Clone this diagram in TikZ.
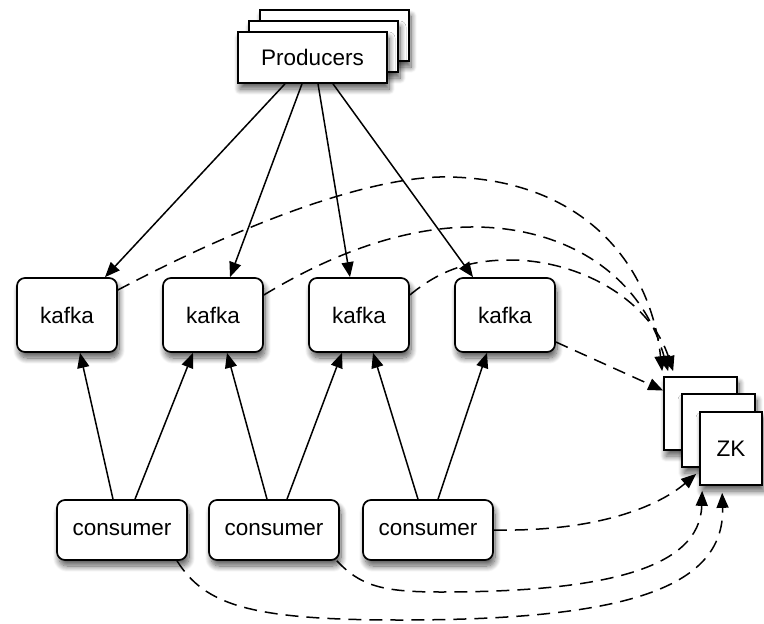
\documentclass[tikz,border=0pt]{standalone}
\usepackage{fontspec}
\setmainfont{Liberation Sans}
\usetikzlibrary{arrows.meta,shadows.blur}
\begin{document}
\begin{tikzpicture}[x=1pt,y=-1pt,
  shd/.style={blur shadow={shadow xshift=2pt, shadow yshift=-6pt, shadow blur steps=12, shadow opacity=65, shadow blur radius=6pt}},
  txt/.style={font=\fontsize{22.5}{27}\selectfont, inner sep=0pt},
  kbox/.style={draw=black, line width=1.7pt, fill=white, rounded corners=8pt, minimum width=100pt, minimum height=74pt, txt, shd},
  cbox/.style={draw=black, line width=1.7pt, fill=white, rounded corners=8pt, minimum width=130pt, minimum height=60pt, txt, shd},
  pbox/.style={draw=black, line width=1.7pt, fill=white, minimum width=149pt, minimum height=51pt, txt, shd},
  zbox/.style={draw=black, line width=1.7pt, fill=white, minimum width=73pt, minimum height=73pt, txt, shd},
  arr/.style={line width=1.5pt, -{Triangle[length=15pt,width=12pt]}},
  darr/.style={arr, dash pattern=on 13pt off 8pt}
]
\useasboundingbox (0,0) rectangle (764,624);

% Producers stack
\node[pbox] (p1) at (334.5,35.5) {};
\node[pbox] (p2) at (323.5,46.5) {};
\node[pbox] (prod) at (312.5,57.5) {Producers};

% kafka brokers
\node[kbox] (k1) at (67,315) {kafka};
\node[kbox] (k2) at (213,315) {kafka};
\node[kbox] (k3) at (359,315) {kafka};
\node[kbox] (k4) at (505,315) {kafka};

% consumers
\node[cbox] (c1) at (122,530) {consumer};
\node[cbox] (c2) at (274,530) {consumer};
\node[cbox] (c3) at (428,530) {consumer};

% ZK stack
\node[zbox] (zk1) at (700.5,413.5) {};
\node[zbox] (zk2) at (718.5,430.5) {};
\node[zbox, minimum width=62pt] (zk3) at (731,448.5) {ZK};

% producers -> kafka
\draw[arr] ([xshift=-27.5pt]prod.south) -- ([xshift=38pt]k1.north);
\draw[arr] ([xshift=-10.5pt]prod.south) -- ([xshift=17pt]k2.north);
\draw[arr] ([xshift=5.5pt]prod.south) -- ([xshift=-9pt]k3.north);
\draw[arr] ([xshift=20.5pt]prod.south) -- ([xshift=-32pt]k4.north);

% consumers -> kafka
\draw[arr] ([xshift=-9pt]c1.north) -- ([xshift=13pt]k1.south);
\draw[arr] ([xshift=13pt]c1.north) -- ([xshift=-20pt]k2.south);
\draw[arr] ([xshift=-7pt]c2.north) -- ([xshift=14pt]k2.south);
\draw[arr] ([xshift=13pt]c2.north) -- ([xshift=-17pt]k3.south);
\draw[arr] ([xshift=-10pt]c3.north) -- ([xshift=14pt]k3.south);
\draw[arr] ([xshift=10pt]c3.north) -- ([xshift=-18pt]k4.south);

% kafka -> ZK
\draw[darr] ([yshift=25pt]k1.east) .. controls (260,215) and (380,175) .. (450,177)
  .. controls (580,180) and (650,260) .. ([shift={(-1pt,5pt)}]zk1.north west);
\draw[darr] ([yshift=20pt]k2.east) .. controls (330,255) and (400,228) .. (470,227)
  .. controls (560,226) and (640,270) .. ([shift={(5pt,5pt)}]zk1.north west);
\draw[darr] ([yshift=20pt]k3.east) .. controls (440,270) and (470,260) .. (510,260)
  .. controls (580,260) and (650,300) .. ([shift={(10pt,5pt)}]zk1.north west);
\draw[darr] ([yshift=-27pt]k4.east) -- ([yshift=23pt]zk1.west);

% consumers -> ZK
\draw[darr] (c3.east) .. controls (600,532) and (660,505) .. ([shift={(-3pt,12pt)}]zk3.south west);
\draw[darr] ([xshift=-3pt]c2.south east) .. controls (360,585) and (380,592) .. (440,592)
  .. controls (600,592) and (700,570) .. ([shift={(3pt,-5pt)}]zk3.south west);
\draw[darr] ([xshift=55pt]c1.south) .. controls (205,605) and (250,620) .. (400,620)
  .. controls (620,620) and (725,590) .. ([shift={(23pt,-7pt)}]zk3.south west);
\end{tikzpicture}
\end{document}
